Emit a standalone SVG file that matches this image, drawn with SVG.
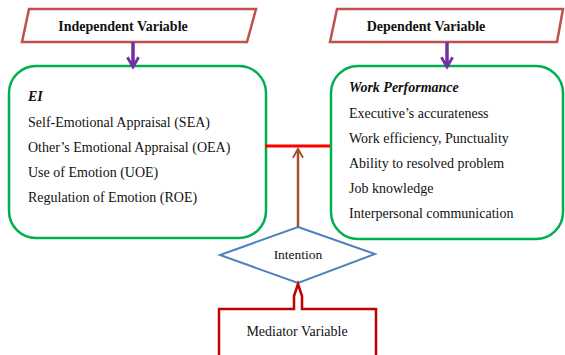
<svg xmlns="http://www.w3.org/2000/svg" width="565" height="355" viewBox="0 0 565 355">
<defs>
<style>
text{font-size:14px;fill:#111}
.b{font-weight:bold}
.para{fill:#fff;stroke:#c0504d;stroke-width:2.5}
.box{fill:#fff;stroke:#00b050;stroke-width:2.5}
</style>
<marker id="pv" viewBox="0 0 10 10" refX="8" refY="5" markerWidth="4" markerHeight="4" orient="auto" markerUnits="strokeWidth">
<path d="M1,1 L8,5 L1,9" fill="none" stroke="#7030a0" stroke-width="2"/>
</marker>
<marker id="br" viewBox="0 0 10 10" refX="8" refY="5" markerWidth="5" markerHeight="5" orient="auto" markerUnits="strokeWidth">
<path d="M1,1 L8,5 L1,9" fill="none" stroke="#a0522d" stroke-width="1.5"/>
</marker>
</defs>
<rect width="565" height="355" fill="#fff"/>
<g font-family="Liberation Serif, Times New Roman, serif">
<g id="independent-variable">
<polygon class="para" points="29,9 256,9 247,42 22,42"/>
<text class="b" x="123" y="31" text-anchor="middle">Independent Variable</text>
</g>
<g id="dependent-variable">
<polygon class="para" points="337,9 563,9 557,42 330,42"/>
<text class="b" x="426" y="31" text-anchor="middle">Dependent Variable</text>
</g>
<g id="ei">
<rect class="box" x="9" y="66" width="257" height="172" rx="27" ry="27"/>
<text class="b" x="28" y="101" font-style="italic">EI</text>
<text x="28" y="127">Self-Emotional Appraisal (SEA)</text>
<text x="28" y="152">Other’s Emotional Appraisal (OEA)</text>
<text x="28" y="177">Use of Emotion (UOE)</text>
<text x="28" y="202">Regulation of Emotion (ROE)</text>
</g>
<g id="work-performance">
<rect class="box" x="331" y="66" width="232" height="173" rx="27" ry="27"/>
<text class="b" x="349" y="92" font-style="italic">Work Performance</text>
<text x="349" y="118">Executive’s accurateness</text>
<text x="349" y="143">Work efficiency, Punctuality</text>
<text x="349" y="168">Ability to resolved problem</text>
<text x="349" y="193">Job knowledge</text>
<text x="349" y="218">Interpersonal communication</text>
</g>
<g id="intention">
<polygon points="298,227 375,254 298,283 220,255" fill="#fff" stroke="#4f81bd" stroke-width="2"/>
<text x="298" y="259" text-anchor="middle" style="font-size:13.5px">Intention</text>
</g>
<g id="mediator-variable">
<path d="M219,357 L219,309 L294,309 L294,296 L298,284 L302,296 L302,309 L376,309 L376,357" fill="#fff" stroke="#c00000" stroke-width="2.5"/>
<text x="297" y="336" text-anchor="middle">Mediator Variable</text>
</g>
</g>
<g id="connectors">
<line x1="133" y1="42" x2="133" y2="67" stroke="#7030a0" stroke-width="3.5" marker-end="url(#pv)"/>
<line x1="447" y1="42" x2="447" y2="67" stroke="#7030a0" stroke-width="3.5" marker-end="url(#pv)"/>
<line x1="265" y1="146" x2="330" y2="146" stroke="#ff0000" stroke-width="3"/>
<line x1="298" y1="227" x2="298" y2="149" stroke="#a0522d" stroke-width="2.5" marker-end="url(#br)"/>
</g>
</svg>
